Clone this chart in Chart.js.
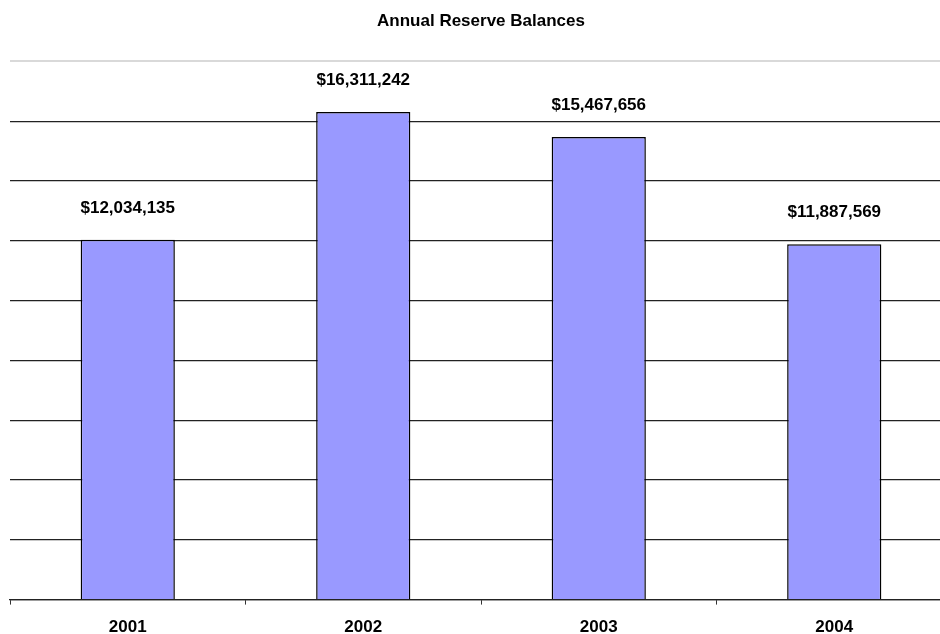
<!DOCTYPE html>
<html>
<head>
<meta charset="utf-8">
<script src="https://cdn.jsdelivr.net/npm/chart.js@4.4.1/dist/chart.umd.min.js"></script>
<style>
    html, body { margin: 0; padding: 0; background: #fff; overflow: hidden; }
    #wrap { width: 952px; height: 651px; }
</style>
</head>
<body>
<div id="wrap"><canvas id="reserveChart"></canvas></div>
<script>
var years = ['2001', '2002', '2003', '2004'];
var balances = [12034135, 16311242, 15467656, 11887569];
var axisMax = 18000000;
var axisStep = 2000000;

function formatDollars(v) {
    return '$' + v.toLocaleString('en-US');
}

// draws the dollar amount above each bar
var valueLabels = {
    id: 'valueLabels',
    afterDatasetsDraw: function(chart) {
        var ctx = chart.ctx;
        var meta = chart.getDatasetMeta(0);
        ctx.save();
        ctx.font = 'bold 17px "Liberation Sans", Arial, sans-serif';
        ctx.fillStyle = '#000';
        ctx.textAlign = 'center';
        ctx.textBaseline = 'alphabetic';
        meta.data.forEach(function(bar, i) {
            ctx.fillText(formatDollars(chart.data.datasets[0].data[i]), bar.x, bar.y - 27);
        });
        ctx.restore();
    }
};

var ctx = document.getElementById('reserveChart').getContext('2d');
var chart = new Chart(ctx, {
    type: 'bar',
    data: {
        labels: years,
        datasets: [{
            label: 'Reserve Balance',
            data: balances,
            backgroundColor: '#9999ff',
            borderColor: '#000',
            borderWidth: 1.5,
            barPercentage: 0.4,
            categoryPercentage: 1.0
        }]
    },
    options: {
        responsive: true,
        maintainAspectRatio: false,
        animation: false,
        layout: { padding: { left: 10, right: 0, top: 0, bottom: 0 } },
        plugins: {
            legend: { display: false },
            tooltip: { enabled: false },
            title: {
                display: true,
                text: 'Annual Reserve Balances',
                color: '#000',
                font: { family: '"Liberation Sans", Arial, sans-serif', size: 17, weight: 'bold' },
                padding: { top: 11, bottom: 30 }
            }
        },
        scales: {
            y: {
                min: 0,
                max: axisMax,
                ticks: { display: false, stepSize: axisStep },
                border: { display: false },
                grid: {
                    drawTicks: false,
                    color: function(c) {
                        return c.tick && c.tick.value === axisMax ? '#d9d9d9' : '#222';
                    },
                    lineWidth: function(c) {
                        return c.tick && c.tick.value === axisMax ? 2 : 1.2;
                    }
                }
            },
            x: {
                border: { display: true, color: '#222', width: 1.2 },
                grid: {
                    offset: true,
                    drawOnChartArea: false,
                    tickLength: 5,
                    color: '#333'
                },
                ticks: {
                    color: '#000',
                    padding: 13,
                    font: { family: '"Liberation Sans", Arial, sans-serif', size: 17, weight: 'bold' }
                }
            }
        }
    },
    plugins: [valueLabels]
});
</script>
</body>
</html>
